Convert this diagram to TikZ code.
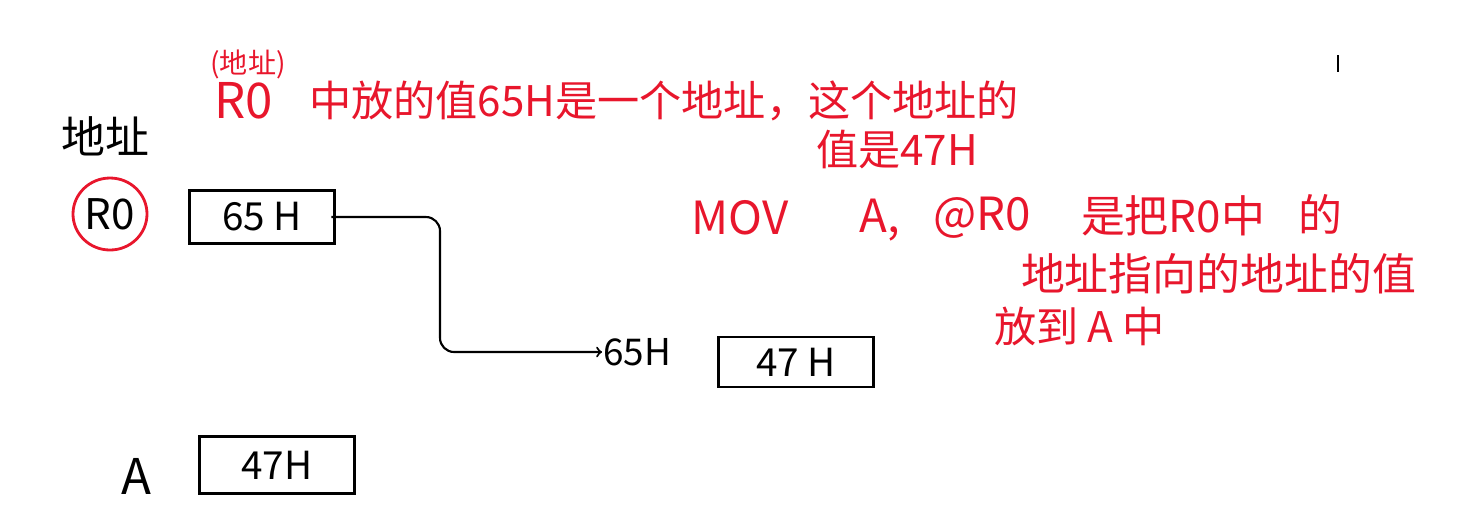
\documentclass[tikz,border=0pt]{standalone}
\usepackage{fontspec}
\newfontfamily\cjk{Noto Sans CJK SC}
\definecolor{penred}{RGB}{232,22,44}
\tikzset{
  note/.style={text=penred, font=\cjk\fontsize{25}{30}\selectfont, inner sep=0pt},
  ink/.style={text=black, font=\cjk\fontsize{22}{26}\selectfont, inner sep=0pt},
  valbox/.style={draw, line width=1.2pt, inner sep=0pt, font=\cjk\fontsize{22}{26}\selectfont},
}
\begin{document}
\begin{tikzpicture}[x=0.02cm, y=-0.02cm, line width=1.2pt]
  \useasboundingbox (0,0) rectangle (1466,529);

  % --- red note at the top ---
  \node[note, font=\cjk\fontsize{16}{18}\selectfont] (tag) at (248,64) {(地址)};
  \node[note, font=\cjk\fontsize{28}{32}\selectfont] (rzero) at (244,101) {R0};
  \node[note, font=\cjk\fontsize{24}{28}\selectfont, anchor=west] (line1) at (308,101) {中放的值65H是一个地址，这个地址的};
  \node[note, font=\cjk\fontsize{24}{28}\selectfont, anchor=west] (line2) at (815,149) {值是47H};

  % --- left column ---
  \node[ink, font=\cjk\fontsize{25}{30}\selectfont] (addrhead) at (105,136) {地址};
  \node[ink, font=\cjk\fontsize{24}{28}\selectfont] (regname) at (110,214) {R0};
  \draw[penred, line width=1.6pt] (regname) circle [x radius=37, y radius=36];
  \node[ink, font=\cjk\fontsize{28}{32}\selectfont] (accname) at (136,476) {A};

  % --- boxes ---
  \node[valbox, minimum width=2.9cm, minimum height=1.06cm] (regbox) at (262,217) {65 H};
  \node[valbox, minimum width=3.1cm, minimum height=1.0cm] (membox) at (796,362) {47 H};
  \node[valbox, minimum width=3.1cm, minimum height=1.14cm] (accbox) at (277,465) {47H};
  \node[ink, font=\cjk\fontsize{21}{25}\selectfont] (memaddr) at (637,352) {65H};

  % --- pointer arrow ---
  \coordinate (bend) at (440,280);
  \draw[->, rounded corners=8pt] (regbox.east) -- ++(10,0) -| (bend) |- (memaddr.west);

  % --- red explanation ---
  \node[note, font=\cjk\fontsize{26}{30}\selectfont] (mov) at (740,218) {MOV};
  \node[note, font=\cjk\fontsize{26}{30}\selectfont] (dst) at (880,220) {A,};
  \node[note, font=\cjk\fontsize{26}{30}\selectfont] (src) at (982,218) {@R0};
  \node[note, anchor=west] (exp1) at (1080,216) {是把R0中};
  \node[note] (exp2) at (1320,214) {的};
  \node[note, anchor=west] (exp3) at (1020,274) {地址指向的地址的值};
  \node[note, font=\cjk\fontsize{24}{28}\selectfont, anchor=west] (exp4) at (993,326) {放到\ A\ 中};

  % --- stray mark ---
  \draw[line width=0.8pt] (1338,55) -- (1338,72);

\end{tikzpicture}
\end{document}
